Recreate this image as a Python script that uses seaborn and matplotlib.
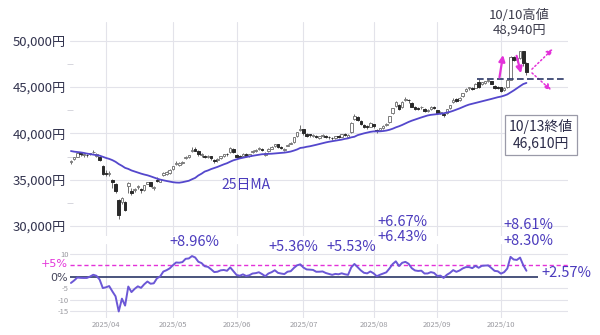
import numpy as np
import pandas as pd
import matplotlib
matplotlib.use("Agg")
import matplotlib.pyplot as plt
import seaborn as sns

sns.set_theme(style="white")
plt.rcParams["font.family"] = ["Noto Sans CJK JP", "DejaVu Sans"]

# ---- trading calendar (Tokyo holidays skipped, 10/13 session kept) ----
jp_holidays = ["2025-03-20", "2025-04-29", "2025-05-05", "2025-05-06",
               "2025-07-21", "2025-08-11", "2025-09-15", "2025-09-23"]
dates = pd.bdate_range("2025-03-14", "2025-10-13", freq="C", holidays=jp_holidays)

# ---- daily prices (yen) ----
opens = [
    36900, 37250, 37500, 37850, 37650, 37700, 37750, 37950, 37600, 37450, 36500,
    35650, 35650, 34950, 34550, 32800, 32600, 32600, 34300, 33800, 33900, 34200,
    34000, 33900, 34550, 34700, 34150, 34950, 34800, 35500, 35650, 35700,
    36100, 36700, 36600, 36750, 37300, 37500, 38050, 38300, 38050, 37650, 37600,
    37450, 37550, 37100, 37100, 37350, 37550, 37800, 38000, 38300,
    37700, 37550, 37600, 37800, 37600, 38000, 38100, 38300, 38350, 37700, 38050,
    38350, 38600, 38800, 38550, 38150, 38650, 38850, 39050, 39700, 40350,
    40450, 39900, 39850, 39750, 39700, 39500, 39750, 39750, 39600, 39500, 39500,
    39750, 39650, 39950, 39650, 40100, 41500, 41750, 41300, 40900, 40800, 40700,
    41000, 40400, 40350, 40600, 40950, 41200, 42200, 42900, 43100, 42800, 43600,
    43650, 43300, 42800, 42700, 42800, 42600, 42450, 42600, 42850,
    42500, 42200, 42100, 42150, 42700, 43400, 43700, 43550, 44000, 44600, 44900,
    44900, 44900, 45500, 45300, 45400, 45600, 45600, 45100, 45000,
    44950, 44700, 44950, 45800, 48240, 47950, 48130, 48840, 47600,
]
highs = [
    37150, 37450, 37900, 37950, 37800, 37750, 37900, 38220, 37900, 37500, 36600,
    36000, 35900, 35100, 34600, 32900, 33150, 32700, 34700, 34100, 34100, 34400,
    34050, 34400, 34800, 34750, 34300, 35300, 35100, 35800, 35900, 36100,
    36500, 37000, 36900, 37000, 37600, 37700, 38500, 38490, 38150, 37900, 37700,
    37650, 37600, 37250, 37300, 37600, 37800, 37900, 38500, 38400,
    37800, 37650, 37850, 37900, 37800, 38200, 38300, 38500, 38400, 38000, 38400,
    38600, 38900, 38850, 38650, 38400, 38900, 39100, 39600, 40200, 40850,
    40500, 40000, 39950, 39900, 39800, 39750, 39950, 39850, 39700, 39600, 39750,
    39800, 39950, 40050, 39900, 41200, 42070, 41900, 41400, 41000, 40900, 41200,
    41050, 40500, 40600, 40850, 41100, 41900, 42750, 43450, 43200, 43450, 43880,
    43750, 43350, 42900, 42800, 42900, 42700, 42600, 42900, 42950,
    42550, 42400, 42150, 42650, 43100, 43800, 43800, 43900, 44400, 44900, 45050,
    45000, 45400, 45850, 45550, 45700, 45850, 45650, 45200, 45100,
    45000, 45000, 45800, 48300, 48400, 48250, 48900, 48940, 47700,
]
lows = [
    36700, 37150, 37450, 37600, 37450, 37450, 37650, 37900, 37450, 37050, 35550,
    35400, 35400, 34100, 33600, 30790, 32400, 31580, 33600, 33300, 33700, 34000,
    33600, 33800, 34500, 34200, 33900, 34750, 34700, 35400, 35550, 35650,
    36000, 36600, 36500, 36650, 37200, 37350, 37950, 38050, 37600, 37500, 37300,
    37300, 37150, 36850, 36900, 37250, 37400, 37600, 37900, 37850,
    37350, 37300, 37500, 37500, 37450, 37900, 38000, 38200, 38100, 37550, 38000,
    38300, 38500, 38400, 38300, 38100, 38600, 38800, 39000, 39600, 40300,
    39800, 39600, 39650, 39650, 39500, 39400, 39650, 39500, 39400, 39300, 39400,
    39500, 39600, 39700, 39500, 40050, 41400, 41300, 40900, 40600, 40500, 40650,
    40600, 40000, 40250, 40450, 40800, 41100, 42100, 42850, 42500, 42700, 43500,
    43300, 42800, 42500, 42500, 42600, 42300, 42300, 42500, 42600,
    42100, 42100, 41800, 42100, 42650, 43300, 43400, 43500, 43950, 44500, 44700,
    44650, 44850, 44900, 45200, 45350, 45500, 45300, 44800, 44800,
    44450, 44600, 44900, 45750, 47800, 47650, 48000, 47300, 46300,
]
closes = [
    37050, 37400, 37850, 37750, 37680, 37610, 37780, 38030, 37800, 37120, 35620,
    35620, 35730, 34740, 33780, 31140, 33010, 31710, 34610, 33590, 33980, 34270,
    33920, 34380, 34730, 34280, 34220, 34870, 35040, 35710, 35840, 36050,
    36450, 36830, 36780, 36930, 37500, 37640, 38180, 38130, 37760, 37750, 37500,
    37530, 37300, 36990, 37160, 37530, 37720, 37720, 38430, 37970,
    37470, 37450, 37750, 37550, 37740, 38090, 38210, 38420, 38170, 37830, 38310,
    38540, 38890, 38490, 38400, 38350, 38790, 38940, 39580, 40150, 40490,
    39990, 39760, 39790, 39810, 39590, 39690, 39820, 39650, 39570, 39460, 39680,
    39660, 39900, 39820, 39770, 41170, 41830, 41460, 41000, 40670, 40650, 41070,
    40800, 40290, 40550, 40790, 41060, 41820, 42720, 43360, 42650, 43380, 43710,
    43550, 42890, 42610, 42630, 42810, 42390, 42520, 42830, 42720,
    42190, 42310, 41940, 42580, 43020, 43640, 43460, 43840, 44370, 44770, 44900,
    44790, 45300, 45050, 45490, 45630, 45760, 45360, 44910, 44930,
    44550, 44940, 45770, 48240, 47950, 48130, 48840, 47600, 46610,
]

# ---- 25-day moving average (yen) ----
ma25 = [
    38091, 38024, 37987, 37945, 37890, 37816, 37761, 37715, 37657, 37594, 37472,
    37346, 37245, 37109, 36930, 36689, 36498, 36274, 36161, 35997, 35880, 35770,
    35655, 35557, 35475, 35364, 35237, 35118, 35010, 34931, 34860, 34791,
    34728, 34689, 34675, 34728, 34803, 34880, 35043, 35192, 35456, 35646, 35877,
    35994, 36143, 36263, 36378, 36523, 36657, 36777, 36943, 37092,
    37196, 37293, 37374, 37443, 37511, 37576, 37632, 37697, 37747, 37760, 37787,
    37801, 37831, 37861, 37887, 37921, 37971, 38037, 38141, 38261, 38427,
    38469, 38551, 38605, 38679, 38764, 38853, 38936, 39020, 39093, 39148, 39207,
    39256, 39325, 39405, 39463, 39569, 39634, 39805, 39909, 40002, 40076, 40161,
    40210, 40215, 40218, 40250, 40302, 40384, 40500, 40647, 40766, 40908, 41071,
    41230, 41367, 41484, 41603, 41719, 41822, 41932, 41998, 42034,
    42063, 42116, 42166, 42243, 42321, 42435, 42562, 42693, 42836, 42985, 43108,
    43191, 43272, 43368, 43453, 43529, 43618, 43716, 43808, 43900,
    43970, 44072, 44202, 44417, 44627, 44865, 45097, 45323, 45442,
]

# ---- deviation from the 25-day average (%) ----
deviation = [
    -2.73, -1.65, -0.37, -0.51, -0.56, -0.55, 0.05, 0.83, 0.38, -1.26, -4.95,
    -4.61, -4.08, -6.39, -8.53, -15.13, -9.55, -12.57, -4.29, -6.70, -5.29, -4.20,
    -4.86, -3.32, -2.10, -3.07, -2.88, -0.71, 0.09, 2.22, 2.81, 3.60,
    4.96, 6.17, 6.07, 6.34, 7.76, 7.92, 8.96, 8.34, 6.48, 5.91, 4.52,
    4.27, 3.20, 1.99, 2.15, 2.76, 2.91, 2.57, 4.03, 2.35,
    0.74, 0.41, 1.00, 0.30, 0.62, 1.37, 1.54, 1.92, 1.13, 0.20, 1.39,
    1.95, 2.79, 1.66, 1.36, 1.14, 2.16, 2.38, 3.79, 4.94, 5.36,
    3.94, 3.14, 3.06, 2.93, 2.13, 2.15, 2.27, 1.60, 1.22, 0.80, 1.20,
    1.04, 1.46, 1.05, 0.79, 4.05, 5.53, 4.15, 2.73, 1.68, 1.44, 2.26,
    1.47, 0.19, 0.83, 1.35, 1.88, 3.56, 5.48, 6.67, 4.62, 6.04, 6.43,
    5.62, 3.68, 2.71, 2.48, 2.61, 1.37, 1.40, 1.98, 1.63,
    0.30, 0.46, -0.54, 0.80, 1.65, 2.85, 2.11, 2.68, 3.59, 4.15, 4.16,
    3.70, 4.70, 3.87, 4.70, 4.83, 4.90, 3.75, 2.52, 2.35,
    1.32, 1.96, 3.55, 8.61, 7.45, 7.28, 8.30, 5.02, 2.57,
]

# annotated values
high_1010 = 48940
close_1013 = 46610
breakout_level = 45830

df = pd.DataFrame({"date": dates, "open": opens, "high": highs, "low": lows,
                   "close": closes, "ma25": ma25, "dev": deviation})
df["x"] = np.arange(len(df))

# month ticks on the first session of each month
firsts = df.groupby(df["date"].dt.to_period("M"))["x"].min()
firsts = firsts[firsts.index.month != 3]
tick_pos = firsts.values
tick_lab = [p.strftime("%Y/%m") for p in firsts.index]


def sess(date_str):
    """Position of a session on the category axis."""
    return int(df.index[df["date"] == pd.Timestamp(date_str)][0])


W, H = 600, 335
fig = plt.figure(figsize=(W / 100, H / 100), dpi=100)
fig.patch.set_facecolor("white")
L, R = 70, 568
ax1 = fig.add_axes([L / W, 1 - 236 / H, (R - L) / W, (236 - 22) / H])
ax2 = fig.add_axes([L / W, 1 - 318 / H, (R - L) / W, (318 - 244) / H])

xlim = (-0.3, 156.05)
grid_c = "#e3e3ea"
navy = "#2b3766"
magenta = "#e332d9"
purple = "#4b3bbd"

# ---------------- price panel ----------------
ax1.set_xlim(*xlim)
ax1.set_ylim(28920, 52020)
ax1.set_xticks(tick_pos)
ax1.set_xticklabels([])
ax1.set_yticks([30000, 35000, 40000, 45000, 50000])
ax1.set_yticklabels([f"{v:,}円" for v in [30000, 35000, 40000, 45000, 50000]],
                    fontsize=9.5, color="#33344f")
ax1.set_yticks([32500, 37500, 42500, 47500], minor=True)
ax1.tick_params(axis="y", which="major", length=0, pad=3)
ax1.tick_params(axis="y", which="minor", length=4, width=0.6, color="#d0d0d8",
                direction="inout", left=True)
ax1.tick_params(axis="x", length=0)
ax1.grid(True, which="major", color=grid_c, lw=0.8)
for s in ax1.spines.values():
    s.set_visible(False)

up = df["close"] >= df["open"]
ax1.vlines(df["x"], df["low"], df["high"], color="#6e6e6e", lw=0.7, zorder=2)
body = (df["close"] - df["open"]).abs().clip(lower=90)
bottom = df[["open", "close"]].min(axis=1)
ax1.bar(df["x"][up], body[up], bottom=bottom[up], width=0.8,
        color="white", edgecolor="#7c7c7c", linewidth=0.7, zorder=3)
ax1.bar(df["x"][~up], body[~up], bottom=bottom[~up], width=0.8,
        color="#2a2a2a", edgecolor="#2a2a2a", linewidth=0.7, zorder=3)

sns.lineplot(data=df, x="x", y="ma25", ax=ax1, color="#5447cc", lw=1.3, zorder=4)
ax1.set_xlabel("")
ax1.set_ylabel("")
ax1.text(55, 34430, "25日MA", color=purple, fontsize=10, ha="center", va="center")

# breakout level and scenario arrows
ax1.hlines(breakout_level, 127.5, 155.7, color=navy, lw=1.2,
           linestyles=(0, (4, 2)), zorder=5)
arrow_kw = dict(arrowstyle="-|>", color=magenta, lw=1.6, mutation_scale=9)
ax1.annotate("", xy=(135.8, 48750), xytext=(134.4, 45750), arrowprops=arrow_kw, zorder=6)
ax1.annotate("", xy=(141.5, 46200), xytext=(139.7, 48660), arrowprops=arrow_kw, zorder=6)
dot_kw = dict(arrowstyle="-|>", color=magenta, lw=1.1, ls=":", mutation_scale=9)
ax1.annotate("", xy=(151.9, 49320), xytext=(144.1, 46720), arrowprops=dot_kw, annotation_clip=False)
ax1.annotate("", xy=(151.4, 44460), xytext=(144.1, 46720), arrowprops=dot_kw, annotation_clip=False)

ax1.text(sess("2025-10-10") - 1.3, 51950, f"10/10高値\n{high_1010:,}円", ha="center",
         va="center", fontsize=9.5, color="#3c3c4c", linespacing=1.15, clip_on=False)
ax1.text(147.6, 39820, f"10/13終値\n{close_1013:,}円", ha="center", va="center",
         fontsize=10, color="#2a2a48", linespacing=1.2, clip_on=False,
         bbox=dict(boxstyle="square,pad=0.3", fc="white", ec="#9a9aa8", lw=0.9))

# ---------------- deviation panel ----------------
ax2.set_xlim(*xlim)
ax2.set_ylim(-17.96, 14.2)
ax2.set_xticks(tick_pos)
ax2.set_xticklabels(tick_lab, fontsize=5.5, color="#9a9aa0")
ax2.tick_params(axis="x", length=0, pad=2)
ax2.set_yticks([-15, -10, -5, 10])
ax2.set_yticklabels(["-15", "-10", "-5", "10"], fontsize=5.5, color="#9a9aa0")
ax2.tick_params(axis="y", length=0, pad=1)
ax2.grid(True, color=grid_c, lw=0.8)
for s in ax2.spines.values():
    s.set_visible(False)

# reference levels with their own labels
ax2.axhline(5, color=magenta, lw=1.0, ls=(0, (3, 2)), zorder=2)
ax2.hlines(0, xlim[0], 146.6, color=navy, lw=1.2, zorder=2)
ax2.text(-1.0, 5.3, "+5%", ha="right", va="center", fontsize=8, color=magenta,
         family="DejaVu Sans", clip_on=False)
ax2.text(-1.0, -0.7, "0%", ha="right", va="center", fontsize=8, color="#44445a",
         family="DejaVu Sans", clip_on=False)

sns.lineplot(data=df, x="x", y="dev", ax=ax2, color="#6b57d6", lw=1.4, zorder=3)
ax2.set_xlabel("")
ax2.set_ylabel("")

lab_pos = {"+8.96%": (38.8, 15.1), "+5.36%": (69.7, 12.9),
           "+5.53%": (87.9, 13.0), "+6.67%": (104.1, 23.9),
           "+6.43%": (104.1, 17.3), "+8.61%": (143.6, 22.5),
           "+8.30%": (143.6, 15.5)}
for txt, (x, y) in lab_pos.items():
    ax2.text(x, y, txt, ha="center", va="center", fontsize=10.5, color=purple, clip_on=False)
ax2.text(147.8, 1.5, f"+{deviation[-1]:.2f}%", ha="left", va="center",
         fontsize=10.5, color=purple, clip_on=False)

fig.savefig("out.png", dpi=100, facecolor="white")
